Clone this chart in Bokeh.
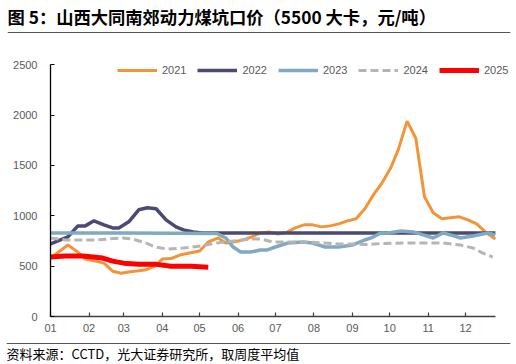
from bokeh.plotting import figure
from bokeh.models import (Range1d, FixedTicker, Legend, LegendItem, Label, Span)
from bokeh.layouts import column
from bokeh.embed import file_html
from bokeh.resources import INLINE

# day-of-year (0 = Jan 1) and price (yuan/t)
d2021 = [0, 14, 22, 28, 36, 43, 50, 57, 64, 71, 77, 84, 90, 97, 104, 112, 120, 127, 135, 141, 147,
         155, 162, 169, 176, 183, 190, 197, 204, 211, 218, 225, 232, 239, 246, 253, 260, 267, 274,
         280, 287, 294, 301, 308, 315, 322, 329, 336, 343, 350, 358]
v2021 = [580, 710, 640, 570, 550, 530, 450, 430, 445, 455, 465, 500, 570, 575, 610, 630, 650, 740, 780, 730, 740,
         760, 790, 830, 840, 820, 835, 880, 910, 910, 890, 900, 920, 950, 970, 1070, 1210, 1330, 1480,
         1660, 1940, 1770, 1190, 1030, 970, 980, 990, 960, 920, 840, 770]

d2022 = [0, 14, 22, 28, 35, 43, 50, 55, 63, 71, 78, 85, 93, 101, 107, 115, 122, 200, 280, 358]
v2022 = [720, 790, 900, 900, 950, 910, 880, 880, 940, 1060, 1080, 1070, 960, 890, 860, 840, 830, 830, 830, 830]

d2023 = [0, 60, 134, 141, 147, 153, 161, 169, 174, 181, 191, 203, 211, 221, 232, 243, 253, 258, 266, 272,
         282, 292, 300, 308, 316, 322, 330, 340, 352, 358]
v2023 = [830, 830, 825, 780, 690, 640, 640, 660, 660, 690, 730, 740, 730, 690, 690, 710, 760, 780, 830, 830,
         850, 840, 810, 780, 830, 810, 780, 800, 830, 810]

d2024 = [0, 12, 36, 58, 66, 77, 84, 94, 107, 121, 134, 147, 161, 169, 179, 192, 205, 219, 232, 246, 256,
         266, 290, 316, 330, 340, 348, 356]
v2024 = [780, 760, 760, 780, 770, 730, 690, 670, 680, 700, 730, 750, 770, 770, 740, 740, 740, 730, 720, 720, 715,
         725, 730, 730, 710, 680, 630, 590]

d2025 = [0, 12, 26, 42, 50, 59, 71, 84, 97, 113, 127]
v2025 = [590, 600, 600, 580, 550, 530, 520, 520, 500, 500, 490]

month_ticks = [0, 31, 59, 90, 120, 151, 181, 212, 243, 273, 304, 334]
month_labels = ["01", "02", "03", "04", "05", "06", "07", "08", "09", "10", "11", "12"]
y_ticks = [0, 500, 1000, 1500, 2000, 2500]

title_text = "图 5：山西大同南郊动力煤坑口价（5500 大卡，元/吨）"
source_text = "资料来源：CCTD，光大证券研究所，取周度平均值"

FONT = "Liberation Sans"
CJK = "Noto Sans CJK SC"
W = 516

# ---- title strip ----
top = figure(width=W, height=33, output_backend="svg", toolbar_location=None, frame_align=False,
             x_axis_type=None, y_axis_type=None, x_range=Range1d(0, 503), y_range=Range1d(0, 33),
             min_border_left=7, min_border_right=6, min_border_top=0, min_border_bottom=0)
top.outline_line_color = None
top.grid.grid_line_color = None
top.add_layout(Label(x=0, y=17.5, text=title_text, text_font=CJK, text_font_size="17.3px",
                     text_font_style="bold", text_color="black",
                     text_baseline="middle", text_align="left"))
top.add_layout(Span(location=1, dimension="width", line_color="#555555", line_width=1.2))

# ---- main chart ----
p = figure(width=W, height=307, output_backend="svg", toolbar_location=None, frame_align=False,
           x_range=Range1d(0, 375.05), y_range=Range1d(0, 2741),
           min_border_left=50, min_border_right=0, min_border_top=7, min_border_bottom=24)
p.outline_line_color = None
p.grid.grid_line_color = None

for ax in (p.xaxis[0], p.yaxis[0]):
    ax.major_label_text_font = FONT
    ax.major_label_text_font_size = "11px"
    ax.major_label_text_color = "#595959"
    ax.minor_tick_line_color = None
    ax.major_tick_in = 4
    ax.major_tick_out = 0
    ax.axis_line_width = 1.3
    ax.major_tick_line_width = 1.2

p.xaxis[0].ticker = FixedTicker(ticks=month_ticks)
p.xaxis[0].major_label_overrides = {t: l for t, l in zip(month_ticks, month_labels)}
p.xaxis[0].bounds = (0, 358)
p.xaxis[0].axis_line_color = "#404040"
p.xaxis[0].major_tick_line_color = "#404040"
p.xaxis[0].major_label_standoff = 7
p.yaxis[0].ticker = FixedTicker(ticks=y_ticks)
p.yaxis[0].bounds = (0, 2500)
p.yaxis[0].axis_line_color = "black"
p.yaxis[0].major_tick_line_color = "black"
p.yaxis[0].major_label_standoff = 13

r21 = p.line(d2021, v2021, line_color="#F39439", line_width=3)
r22 = p.line(d2022, v2022, line_color="#4B4A72", line_width=3.5)
r23 = p.line(d2023, v2023, line_color="#80AAC2", line_width=3.5)
r24 = p.line(d2024, v2024, line_color="#B5B5B5", line_width=3, line_dash="8 4")
r25 = p.line(d2025, v2025, line_color="#FF0000", line_width=5)

legend = Legend(items=[LegendItem(label="2021", renderers=[r21]),
                       LegendItem(label="2022", renderers=[r22]),
                       LegendItem(label="2023", renderers=[r23]),
                       LegendItem(label="2024", renderers=[r24]),
                       LegendItem(label="2025", renderers=[r25])],
                orientation="horizontal", location=(67, 239),
                label_text_font=FONT, label_text_font_size="11px", label_text_color="#595959",
                glyph_width=40, glyph_height=14, label_height=14, label_standoff=5, spacing=11,
                padding=0, margin=0, border_line_color=None, background_fill_alpha=0)
p.add_layout(legend, "center")

# ---- source strip ----
bot = figure(width=W, height=24, output_backend="svg", toolbar_location=None, frame_align=False,
             x_axis_type=None, y_axis_type=None, x_range=Range1d(0, 504), y_range=Range1d(0, 24),
             min_border_left=6, min_border_right=6, min_border_top=0, min_border_bottom=0)
bot.outline_line_color = None
bot.grid.grid_line_color = None
bot.add_layout(Span(location=21, dimension="width", line_color="#555555", line_width=1.2))
bot.add_layout(Label(x=0, y=11.5, text=source_text, text_font=CJK, text_font_size="13px",
                     text_color="black", text_baseline="middle", text_align="left"))

layout = column(top, p, bot, spacing=0)
open("out.html", "w").write(file_html(layout, INLINE))
